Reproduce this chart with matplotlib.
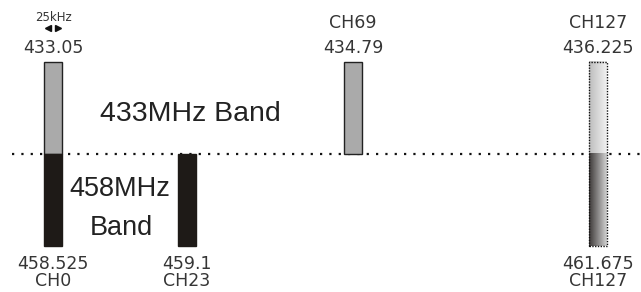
import numpy as np
import matplotlib.pyplot as plt
from matplotlib.colors import LinearSegmentedColormap

plt.rcParams["font.family"] = ["DejaVu Sans"]

# 信道数据
freq_433 = ["433.05", "434.79", "436.225"]
ch_433 = ["", "CH69", "CH127"]
freq_458 = ["458.525", "459.1", "461.675"]
ch_458 = ["CH0", "CH23", "CH127"]

# 示意图中各信道的横向位置（版面位置，非比例）
slot_433 = [53, 353, 598]
slot_458 = [53, 187, 598]

txt = "#353535"
W = 18

fig = plt.figure(figsize=(6.41, 2.92), dpi=100)
ax = fig.add_axes([0, 0, 1, 1])
ax.set_xlim(0, 641)
ax.set_ylim(-138 / 92, 154 / 92)
ax.axis("off")

# 分隔虚线
ax.plot([12, 641], [0, 0], color="#111111", lw=1.6, ls=(0, (1, 3.2)), zorder=1)

# 433MHz 频段（上方）
for i in range(2):
    ax.bar(slot_433[i], 1, width=W, bottom=0, color="#aaaaaa",
           edgecolor="#222222", lw=1, zorder=2)
# 458MHz 频段（下方）
for i in range(2):
    ax.bar(slot_458[i], -1, width=W, bottom=0, color="#1e1a17",
           edgecolor="#1e1a17", lw=1, zorder=2)

# CH127 渐变柱
x0 = slot_433[2] - W / 2
g = np.linspace(0, 1, 64).reshape(1, -1)
ax.imshow(g, extent=[x0, x0 + W, 0, 1],
          cmap=LinearSegmentedColormap.from_list("up", ["#bcbcbc", "#f2f2f2"]),
          aspect="auto", zorder=2)
ax.imshow(g, extent=[x0, x0 + W, -1, 0],
          cmap=LinearSegmentedColormap.from_list("dn", ["#3e3a39", "#d2d2d2"]),
          aspect="auto", zorder=2)
ax.add_patch(plt.Rectangle((x0, -1), W, 2, fill=False, ec="#111111", lw=1,
                           ls=(0, (1, 1)), zorder=3))

# 上方标签
fs = 12.5
for i in range(3):
    ax.text(slot_433[i], 1.15, freq_433[i], ha="center", va="center",
            fontsize=fs, color=txt)
    if ch_433[i]:
        ax.text(slot_433[i], 1.42, ch_433[i], ha="center", va="center",
                fontsize=fs, color=txt)
# 下方标签
for i in range(3):
    ax.text(slot_458[i], -1.2, freq_458[i], ha="center", va="center",
            fontsize=fs, color=txt)
    ax.text(slot_458[i], -1.38, ch_458[i], ha="center", va="center",
            fontsize=fs, color=txt)

# 25kHz 间隔标注
ax.text(slot_433[0], 1.485, "25kHz", ha="center", va="center",
        fontsize=8.5, color=txt)
ax.plot([slot_433[0] - 5], [1.37], marker="<", ms=4.5, color="#111111", lw=0)
ax.plot([slot_433[0] + 5], [1.37], marker=">", ms=4.5, color="#111111", lw=0)

big = dict(family="Liberation Sans", color="#222222")
ax.text(100, 0.44, "433MHz Band", ha="left", va="center", fontsize=20.5, **big)
ax.text(120, -0.38, "458MHz", ha="center", va="center", fontsize=19.5, **big)
ax.text(121, -0.8, "Band", ha="center", va="center", fontsize=19.5, **big)

fig.savefig("out.png", dpi=100)
